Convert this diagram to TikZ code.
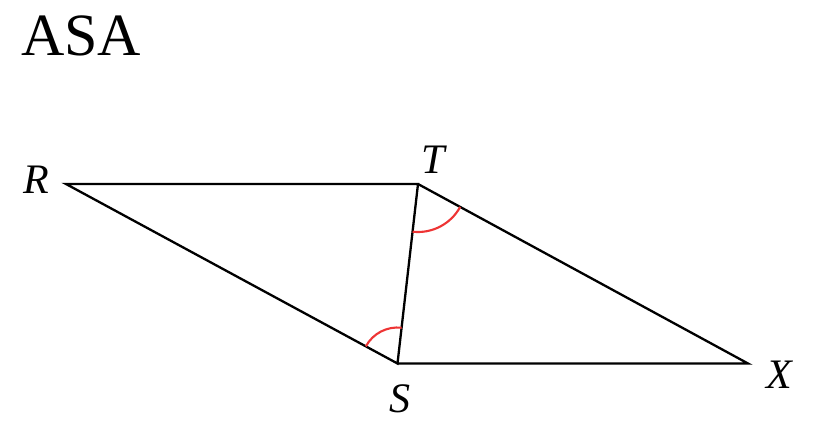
\documentclass[tikz,border=0pt]{standalone}
\usepackage{fontspec}
\setmainfont{Liberation Serif}
\usetikzlibrary{angles}
\definecolor{arcred}{RGB}{238,52,52}
\begin{document}
\begin{tikzpicture}[x=1pt,y=-1pt,
  edge/.style={line width=2.3pt,line join=miter},
  anglearc/.style={draw=arcred,line width=2.1pt},
  vlabel/.style={font=\fontsize{42}{42}\selectfont\itshape,inner sep=0pt}]
\useasboundingbox (0,0) rectangle (814,430);
\fill[white] (0,0) rectangle (814,430);
\node[font=\fontsize{60}{60}\selectfont,anchor=base west,inner sep=0pt] (title) at (21,56) {ASA};
\coordinate (R) at (66,184);
\coordinate (T) at (418,184);
\coordinate (S) at (397.5,363.5);
\coordinate (X) at (748,363.5);
\draw[edge] (R) -- (T) -- (S) -- cycle;
\draw[edge] (T) -- (X) -- (S);
\pic[anglearc,angle radius=48pt] {angle = S--T--X};
\pic[anglearc,angle radius=36pt] {angle = T--S--R};
\node[vlabel] (lR) at (36,180) {R};
\node[vlabel] (lT) at (433,160) {T};
\node[vlabel] (lS) at (400,399) {S};
\node[vlabel] (lX) at (779,375) {X};
\end{tikzpicture}
\end{document}
